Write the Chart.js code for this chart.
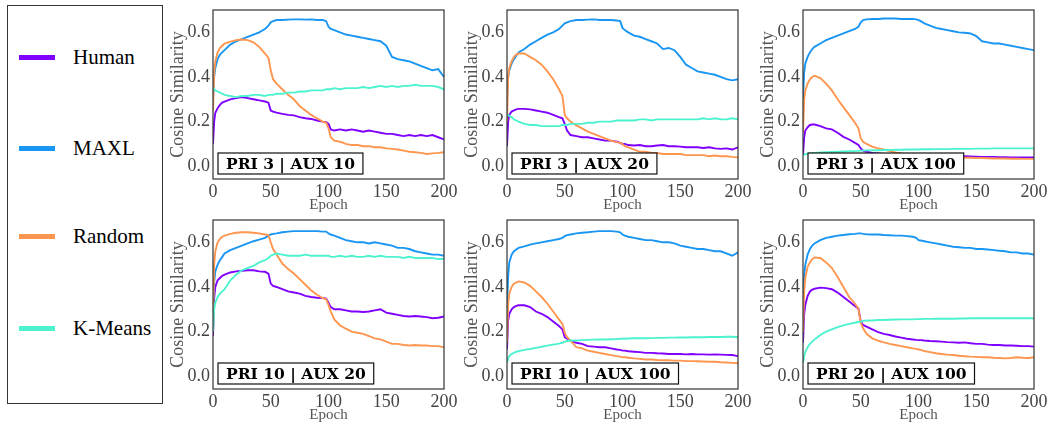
<!DOCTYPE html>
<html>
<head>
<meta charset="utf-8">
<script src="https://cdn.jsdelivr.net/npm/chart.js@4/dist/chart.umd.min.js"></script>
<style>
  body { margin: 0; background: #fff; width: 1048px; height: 426px; overflow: hidden; position: relative; }
  canvas.panel { position: absolute; }
  #legend { position: absolute; left: 7px; top: 5px; width: 154px; height: 397px; border: 1px solid #333; font-family: 'Liberation Serif', serif; }
  .item { position: absolute; left: 11px; height: 24px; }
  .swatch { position: absolute; left: 0; top: 10px; width: 36px; height: 5px; }
  .name { position: absolute; left: 54px; top: 0; font-size: 21px; line-height: 24px; color: #000; white-space: nowrap; }
</style>
</head>
<body>
<div id="legend"></div>
<canvas class="panel" id="p1" width="291" height="210" style="left:167px;top:4px"></canvas>
<canvas class="panel" id="p2" width="291" height="210" style="left:461px;top:4px"></canvas>
<canvas class="panel" id="p3" width="291" height="210" style="left:757px;top:4px"></canvas>
<canvas class="panel" id="p4" width="291" height="210" style="left:167px;top:214px"></canvas>
<canvas class="panel" id="p5" width="291" height="210" style="left:461px;top:214px"></canvas>
<canvas class="panel" id="p6" width="291" height="210" style="left:757px;top:214px"></canvas>
<script>
// series names + colours (rainbow colormap picks)
const names = ['Human', 'MAXL', 'Random', 'K-Means'];
const colors = ['#8000ff', '#1996f3', '#ff964f', '#4df3ce'];
const yTicks = [0.0, 0.2, 0.4, 0.6];
const xTicks = [0, 50, 100, 150, 200];

// epochs sampled from the curves
const epochs = [0,1,2,4,6,8,10,15,20,25,30,35,40,45,48,50,52,55,60,65,70,75,80,85,90,95,98,100,102,105,
  110,115,120,125,130,135,140,145,150,155,160,165,170,175,180,185,190,195,200];

// PRI 3 | AUX 10
const p1Human = [0.10,0.20,0.24,0.26,0.275,0.285,0.29,0.30,0.305,0.31,0.305,0.30,0.295,0.29,0.285,0.25,0.245,0.24,0.235,0.23,0.228,0.22,0.215,0.212,0.205,0.20,0.198,0.19,0.165,0.16,0.165,0.16,0.165,0.16,0.155,0.16,0.155,0.15,0.145,0.145,0.14,0.135,0.14,0.135,0.14,0.135,0.14,0.13,0.12];
const p1Maxl = [0.30,0.40,0.44,0.48,0.50,0.51,0.52,0.545,0.56,0.57,0.58,0.59,0.60,0.615,0.63,0.645,0.65,0.655,0.655,0.657,0.658,0.658,0.657,0.658,0.655,0.655,0.65,0.625,0.615,0.61,0.60,0.59,0.585,0.58,0.575,0.57,0.565,0.56,0.54,0.49,0.48,0.475,0.47,0.46,0.45,0.44,0.43,0.435,0.40];
const p1Random = [0.25,0.42,0.47,0.51,0.53,0.54,0.55,0.558,0.565,0.568,0.565,0.555,0.535,0.505,0.485,0.43,0.39,0.37,0.345,0.32,0.30,0.27,0.25,0.23,0.215,0.20,0.195,0.17,0.13,0.115,0.11,0.10,0.095,0.095,0.09,0.09,0.085,0.085,0.08,0.078,0.075,0.07,0.065,0.063,0.06,0.055,0.058,0.06,0.063];
const p1Kmeans = [0.35,0.345,0.34,0.335,0.33,0.325,0.32,0.315,0.31,0.315,0.315,0.32,0.32,0.315,0.32,0.32,0.32,0.325,0.325,0.33,0.33,0.335,0.335,0.34,0.34,0.34,0.345,0.345,0.345,0.35,0.345,0.35,0.35,0.35,0.355,0.35,0.355,0.36,0.355,0.36,0.355,0.36,0.36,0.365,0.36,0.36,0.36,0.355,0.345];

// PRI 3 | AUX 20
const p2Human = [0.09,0.20,0.23,0.245,0.25,0.255,0.257,0.257,0.255,0.25,0.245,0.24,0.23,0.22,0.215,0.19,0.16,0.14,0.135,0.13,0.13,0.125,0.12,0.115,0.115,0.11,0.105,0.10,0.10,0.095,0.093,0.095,0.09,0.09,0.093,0.095,0.09,0.09,0.088,0.085,0.085,0.085,0.082,0.085,0.08,0.078,0.08,0.075,0.085];
const p2Maxl = [0.30,0.40,0.43,0.46,0.48,0.495,0.51,0.525,0.545,0.56,0.575,0.59,0.60,0.615,0.63,0.64,0.645,0.65,0.655,0.655,0.657,0.658,0.655,0.655,0.655,0.653,0.65,0.62,0.61,0.60,0.585,0.58,0.57,0.56,0.55,0.525,0.53,0.52,0.49,0.455,0.44,0.425,0.42,0.415,0.41,0.40,0.39,0.385,0.39];
const p2Random = [0.20,0.40,0.44,0.47,0.49,0.50,0.505,0.505,0.49,0.475,0.455,0.425,0.39,0.345,0.315,0.23,0.215,0.20,0.183,0.17,0.155,0.145,0.135,0.125,0.115,0.108,0.105,0.10,0.09,0.085,0.075,0.065,0.065,0.06,0.06,0.055,0.055,0.055,0.055,0.05,0.05,0.05,0.05,0.045,0.048,0.045,0.045,0.042,0.04];
const p2Kmeans = [0.23,0.23,0.225,0.22,0.21,0.205,0.20,0.19,0.185,0.185,0.18,0.18,0.18,0.18,0.185,0.185,0.185,0.19,0.19,0.19,0.195,0.195,0.20,0.20,0.20,0.205,0.205,0.205,0.205,0.205,0.205,0.21,0.21,0.205,0.21,0.21,0.21,0.21,0.21,0.21,0.21,0.21,0.215,0.21,0.215,0.21,0.21,0.215,0.21];

// PRI 3 | AUX 100
const p3Human = [0.05,0.13,0.16,0.175,0.185,0.187,0.187,0.18,0.17,0.165,0.15,0.132,0.12,0.105,0.095,0.08,0.07,0.065,0.06,0.058,0.055,0.055,0.052,0.05,0.05,0.05,0.048,0.047,0.047,0.046,0.045,0.045,0.045,0.045,0.045,0.045,0.045,0.044,0.043,0.042,0.042,0.042,0.041,0.041,0.04,0.04,0.04,0.04,0.04];
const p3Maxl = [0.30,0.42,0.46,0.49,0.51,0.525,0.535,0.55,0.565,0.575,0.585,0.595,0.605,0.615,0.625,0.645,0.655,0.658,0.66,0.66,0.662,0.662,0.662,0.66,0.66,0.66,0.658,0.655,0.65,0.64,0.63,0.62,0.615,0.61,0.605,0.60,0.598,0.595,0.583,0.56,0.555,0.55,0.55,0.545,0.54,0.535,0.53,0.525,0.52];
const p3Random = [0.15,0.30,0.34,0.37,0.39,0.40,0.405,0.395,0.37,0.34,0.30,0.265,0.23,0.195,0.17,0.125,0.11,0.10,0.088,0.08,0.075,0.068,0.062,0.057,0.053,0.05,0.048,0.046,0.045,0.045,0.044,0.043,0.04,0.04,0.04,0.038,0.038,0.038,0.037,0.037,0.036,0.035,0.035,0.035,0.034,0.034,0.033,0.033,0.033];
const p3Kmeans = [0.05,0.052,0.054,0.056,0.058,0.06,0.06,0.062,0.063,0.064,0.065,0.066,0.067,0.068,0.069,0.07,0.07,0.071,0.072,0.072,0.073,0.073,0.074,0.074,0.075,0.075,0.075,0.075,0.076,0.076,0.076,0.077,0.077,0.077,0.078,0.078,0.078,0.078,0.079,0.079,0.079,0.08,0.08,0.08,0.08,0.08,0.08,0.08,0.08];

// PRI 10 | AUX 20
const p4Human = [0.18,0.35,0.40,0.43,0.44,0.45,0.455,0.465,0.47,0.472,0.475,0.475,0.47,0.468,0.46,0.415,0.405,0.40,0.39,0.38,0.375,0.37,0.36,0.355,0.352,0.35,0.348,0.33,0.31,0.30,0.30,0.295,0.29,0.29,0.288,0.29,0.295,0.30,0.285,0.28,0.275,0.27,0.268,0.27,0.268,0.265,0.26,0.262,0.268];
const p4Maxl = [0.30,0.42,0.47,0.50,0.52,0.535,0.55,0.565,0.575,0.585,0.595,0.605,0.612,0.62,0.63,0.635,0.638,0.64,0.645,0.648,0.65,0.65,0.65,0.65,0.65,0.648,0.648,0.64,0.635,0.63,0.62,0.61,0.605,0.60,0.60,0.595,0.60,0.595,0.59,0.585,0.575,0.575,0.57,0.56,0.555,0.55,0.545,0.545,0.54];
const p4Random = [0.25,0.50,0.56,0.60,0.615,0.625,0.63,0.638,0.643,0.645,0.645,0.643,0.64,0.635,0.632,0.60,0.57,0.545,0.505,0.48,0.46,0.435,0.41,0.385,0.365,0.35,0.345,0.32,0.29,0.255,0.228,0.213,0.20,0.195,0.19,0.18,0.17,0.165,0.155,0.145,0.145,0.14,0.138,0.14,0.138,0.138,0.135,0.135,0.13];
const p4Kmeans = [0.20,0.30,0.33,0.355,0.37,0.38,0.39,0.43,0.455,0.475,0.485,0.495,0.51,0.52,0.53,0.54,0.545,0.55,0.545,0.54,0.54,0.54,0.545,0.54,0.54,0.54,0.54,0.54,0.535,0.535,0.54,0.535,0.54,0.535,0.535,0.54,0.535,0.54,0.535,0.535,0.535,0.53,0.535,0.53,0.53,0.53,0.53,0.525,0.525];

// PRI 10 | AUX 100
const p5Human = [0.12,0.25,0.28,0.30,0.31,0.315,0.318,0.318,0.31,0.29,0.28,0.265,0.245,0.225,0.21,0.175,0.168,0.16,0.15,0.145,0.135,0.133,0.13,0.13,0.125,0.12,0.118,0.115,0.115,0.112,0.11,0.108,0.105,0.105,0.103,0.102,0.10,0.10,0.10,0.098,0.10,0.098,0.098,0.097,0.098,0.097,0.096,0.095,0.09];
const p5Maxl = [0.30,0.45,0.51,0.545,0.56,0.568,0.575,0.582,0.59,0.595,0.60,0.605,0.61,0.615,0.62,0.628,0.632,0.635,0.64,0.643,0.645,0.648,0.65,0.65,0.65,0.648,0.645,0.635,0.63,0.625,0.62,0.615,0.61,0.61,0.605,0.60,0.60,0.595,0.585,0.58,0.575,0.57,0.57,0.565,0.56,0.56,0.55,0.54,0.555];
const p5Random = [0.15,0.32,0.37,0.40,0.415,0.42,0.425,0.42,0.405,0.38,0.355,0.325,0.29,0.255,0.235,0.195,0.175,0.16,0.13,0.125,0.115,0.11,0.105,0.10,0.095,0.09,0.088,0.085,0.085,0.083,0.08,0.078,0.075,0.075,0.073,0.072,0.072,0.07,0.07,0.068,0.068,0.067,0.066,0.065,0.065,0.063,0.062,0.06,0.058];
const p5Kmeans = [0.06,0.08,0.09,0.10,0.105,0.11,0.112,0.118,0.122,0.127,0.132,0.137,0.142,0.146,0.15,0.155,0.158,0.16,0.16,0.162,0.163,0.164,0.165,0.165,0.166,0.167,0.168,0.168,0.168,0.169,0.17,0.17,0.17,0.171,0.172,0.172,0.173,0.173,0.174,0.174,0.175,0.175,0.175,0.176,0.176,0.176,0.177,0.177,0.175];

// PRI 20 | AUX 100
const p6Human = [0.15,0.28,0.32,0.36,0.38,0.388,0.392,0.397,0.395,0.39,0.375,0.355,0.335,0.315,0.303,0.245,0.23,0.222,0.21,0.198,0.19,0.185,0.178,0.173,0.168,0.165,0.163,0.162,0.162,0.16,0.158,0.157,0.155,0.153,0.152,0.15,0.152,0.148,0.145,0.145,0.142,0.14,0.14,0.138,0.138,0.137,0.135,0.135,0.133];
const p6Maxl = [0.35,0.45,0.50,0.545,0.57,0.585,0.595,0.61,0.62,0.625,0.63,0.633,0.636,0.638,0.64,0.64,0.638,0.636,0.635,0.635,0.633,0.632,0.63,0.63,0.628,0.625,0.62,0.61,0.608,0.605,0.60,0.595,0.59,0.585,0.58,0.578,0.575,0.575,0.57,0.57,0.568,0.565,0.562,0.56,0.555,0.555,0.55,0.55,0.545];
const p6Random = [0.20,0.38,0.44,0.49,0.51,0.525,0.532,0.53,0.51,0.485,0.445,0.40,0.355,0.325,0.303,0.24,0.215,0.19,0.17,0.16,0.152,0.145,0.14,0.135,0.13,0.125,0.123,0.12,0.118,0.113,0.108,0.103,0.10,0.097,0.095,0.092,0.09,0.088,0.087,0.085,0.085,0.083,0.082,0.08,0.082,0.085,0.083,0.082,0.085];
const p6Kmeans = [0.06,0.09,0.11,0.13,0.145,0.155,0.165,0.185,0.20,0.21,0.22,0.228,0.235,0.24,0.243,0.245,0.248,0.25,0.25,0.252,0.252,0.253,0.254,0.255,0.255,0.255,0.256,0.256,0.256,0.257,0.257,0.258,0.258,0.258,0.258,0.259,0.259,0.26,0.26,0.26,0.26,0.26,0.26,0.26,0.26,0.26,0.26,0.26,0.26];

const panels = [
  { id: 'p1', label: 'PRI 3 | AUX 10', series: [p1Human, p1Maxl, p1Random, p1Kmeans] },
  { id: 'p2', label: 'PRI 3 | AUX 20', series: [p2Human, p2Maxl, p2Random, p2Kmeans] },
  { id: 'p3', label: 'PRI 3 | AUX 100', series: [p3Human, p3Maxl, p3Random, p3Kmeans] },
  { id: 'p4', label: 'PRI 10 | AUX 20', series: [p4Human, p4Maxl, p4Random, p4Kmeans] },
  { id: 'p5', label: 'PRI 10 | AUX 100', series: [p5Human, p5Maxl, p5Random, p5Kmeans] },
  { id: 'p6', label: 'PRI 20 | AUX 100', series: [p6Human, p6Maxl, p6Random, p6Kmeans] }
];

Chart.defaults.font.family = "'Liberation Serif', serif";

// legend box on the left
const legendEl = document.getElementById('legend');
const legendTops = [39, 130, 218, 310];
names.forEach((n, k) => {
  const item = document.createElement('div');
  item.className = 'item';
  item.style.top = legendTops[k] + 'px';
  item.innerHTML = '<div class="swatch" style="background:' + colors[k] + '"></div><div class="name">' + n + '</div>';
  legendEl.appendChild(item);
});

// frame round the plot area + the PRI/AUX label box
const framePlugin = {
  id: 'frameBox',
  afterDatasetsDraw(chart, args, opts) {
    const { ctx, chartArea: a } = chart;
    ctx.save();
    ctx.strokeStyle = '#333';
    ctx.lineWidth = 1.2;
    ctx.strokeRect(a.left, a.top, a.right - a.left, a.bottom - a.top);

    ctx.font = 'bold 15.5px "DejaVu Serif", serif';
    const w = ctx.measureText(opts.text).width + 16;
    const h = 21;
    const bx = a.left + 5, by = a.bottom - 5 - h;
    ctx.fillStyle = '#fff';
    ctx.fillRect(bx, by, w, h);
    ctx.strokeStyle = '#111';
    ctx.lineWidth = 1.2;
    ctx.strokeRect(bx, by, w, h);
    ctx.fillStyle = '#000';
    ctx.textAlign = 'center';
    ctx.textBaseline = 'middle';
    ctx.fillText(opts.text, bx + w / 2, by + h / 2 + 1);
    ctx.restore();
  }
};

panels.forEach(p => {
  new Chart(document.getElementById(p.id), {
    type: 'line',
    data: {
      datasets: names.map((n, k) => ({
        label: n,
        data: epochs.map((e, i) => ({ x: e, y: p.series[k][i] })),
        borderColor: colors[k],
        borderWidth: 1.9,
        pointRadius: 0,
        tension: 0,
        order: 3 - k
      }))
    },
    options: {
      responsive: false,
      animation: false,
      layout: { padding: { top: 6, right: 14, left: 0, bottom: 0 } },
      plugins: {
        legend: { display: false },
        tooltip: { enabled: false },
        frameBox: { text: p.label }
      },
      scales: {
        x: {
          type: 'linear',
          min: 0,
          max: 200,
          afterBuildTicks: s => { s.ticks = xTicks.map(v => ({ value: v })); },
          afterFit: s => { s.height = 35; s.paddingLeft = 0; s.paddingRight = 0; },
          grid: { display: false, drawTicks: false },
          border: { display: false },
          ticks: { font: { size: 18 }, color: '#444', padding: 2, maxRotation: 0 },
          title: { display: true, text: 'Epoch', font: { size: 15 }, color: '#555', padding: { top: 0, bottom: 0 } }
        },
        y: {
          min: -0.057,
          max: 0.70,
          afterBuildTicks: s => { s.ticks = yTicks.map(v => ({ value: v })); },
          afterFit: s => { s.width = 46; s.paddingTop = 0; s.paddingBottom = 0; },
          grid: { display: false, drawTicks: false },
          border: { display: false },
          ticks: { font: { size: 18 }, color: '#444', padding: 3, callback: v => v.toFixed(1) },
          title: { display: true, text: 'Cosine Similarity', font: { size: 18 }, color: '#555', padding: { top: 0, bottom: 0 } }
        }
      }
    },
    plugins: [framePlugin]
  });
});
</script>
</body>
</html>
